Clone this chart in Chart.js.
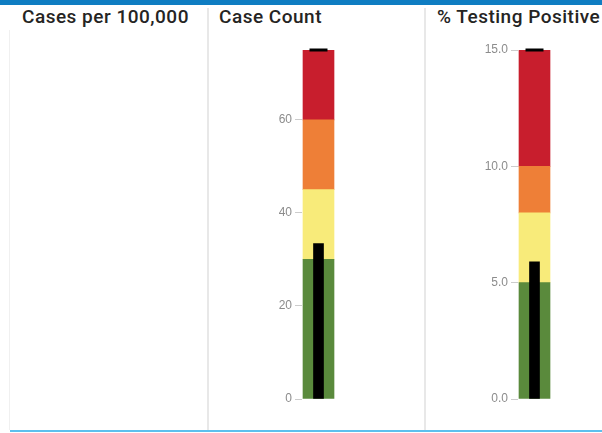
<!DOCTYPE html>
<html>
<head>
<meta charset="utf-8">
<script src="https://cdn.jsdelivr.net/npm/chart.js@4"></script>
<style>
  html, body { margin: 0; padding: 0; background: #ffffff; }
  #page { position: relative; width: 602px; height: 433px; overflow: hidden; background: #ffffff; }
  .topbar { position: absolute; left: 0; top: 0; width: 602px; height: 5px; background: #0f7dc2; }
  .bottomline { position: absolute; left: 10px; top: 430px; width: 592px; height: 2px; background: #5cc0ee; }
  .divider { position: absolute; top: 8px; width: 2px; height: 422px; background: #e8e8e8; }
  .title { position: absolute; top: 5px; font-family: "Roboto", sans-serif; font-weight: 500; font-size: 19px; letter-spacing: 0.5px; color: #252423; white-space: nowrap; }
  canvas { position: absolute; }
</style>
</head>
<body>
<div id="page">
  <div class="topbar"></div>
  <div class="divider" style="left:9px;background:#f0f0f0;width:1px;top:30px;height:400px;"></div>
  <div class="divider" style="left:207px;"></div>
  <div class="divider" style="left:424px;"></div>
  <div class="bottomline"></div>
  <div class="title" id="t0" style="left:22px;"></div>
  <div class="title" id="t1" style="left:219px;"></div>
  <div class="title" id="t2" style="left:437px;"></div>
  <div style="position:absolute;left:240px;top:30px;width:120px;height:390px;"><canvas id="c1" width="120" height="390"></canvas></div>
  <div style="position:absolute;left:460px;top:30px;width:120px;height:390px;"><canvas id="c2" width="120" height="390"></canvas></div>
</div>
<script>
// ---- Data ----
const panelTitles = ["Cases per 100,000", "Case Count", "% Testing Positive"];

const bandColors = ["#5a8a3c", "#f8eb7a", "#ee7f37", "#c81e2d"];

const caseCountBands = [30, 45, 60, 75];   // upper bounds of green, yellow, orange, red
const caseCountValue = 33.4;
const caseCountTarget = 75;
const caseCountTicks = [0, 20, 40, 60];

const pctBands = [5, 8, 10, 15];
const pctValue = 5.9;
const pctTarget = 15;
const pctTicks = [0, 5, 10, 15];

// ---- Titles ----
panelTitles.forEach((t, i) => { document.getElementById("t" + i).textContent = t; });

// ---- Bullet chart builder ----
function bullet(canvasId, bands, value, target, ticks, decimals, axisWidth, padRight) {
  const datasets = [];
  let lo = 0;
  bands.forEach((hi, i) => {
    datasets.push({
      type: "bar",
      data: [[lo, hi]],
      backgroundColor: bandColors[i],
      borderWidth: 0,
      barThickness: 31,
      grouped: false,
      order: 5
    });
    lo = hi;
  });
  datasets.push({
    type: "bar",
    data: [[0, value]],
    backgroundColor: "#000000",
    borderWidth: 0,
    barThickness: 10,
    grouped: false,
    order: 1
  });
  datasets.push({
    type: "line",
    data: [target],
    showLine: false,
    pointStyle: "line",
    pointRadius: 9,
    pointBorderWidth: 3,
    borderColor: "#000000",
    backgroundColor: "#000000",
    clip: false,
    order: 0
  });

  return new Chart(document.getElementById(canvasId), {
    data: { labels: [""], datasets },
    options: {
      responsive: false,
      animation: false,
      layout: { padding: { top: 20, bottom: 21, left: 0, right: padRight } },
      plugins: { legend: { display: false }, tooltip: { enabled: false } },
      scales: {
        x: { type: "category", display: false, offset: true },
        y: {
          min: 0,
          max: bands[bands.length - 1],
          border: { display: false },
          grid: { drawOnChartArea: false, drawTicks: true, tickLength: 7, color: "#cccccc" },
          afterBuildTicks: (s) => { s.ticks = ticks.map(v => ({ value: v })); },
          afterFit: (s) => { s.width = axisWidth; },
          ticks: {
            padding: 3,
            color: "#8c8c8c",
            font: { family: "Liberation Sans", size: 12 },
            callback: (v) => Number(v).toFixed(decimals)
          }
        }
      }
    }
  });
}

bullet("c1", caseCountBands, caseCountValue, caseCountTarget, caseCountTicks, 0, 62, 25);
bullet("c2", pctBands, pctValue, pctTarget, pctTicks, 1, 58, 29);
</script>
</body>
</html>
